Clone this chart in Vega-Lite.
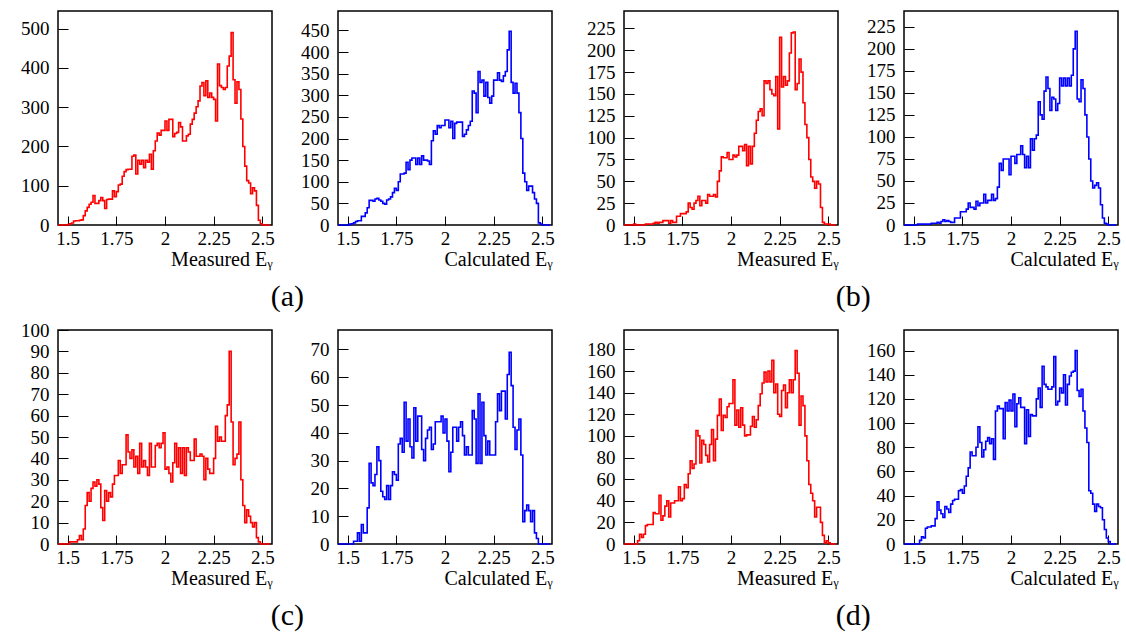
{
"$schema": "https://vega.github.io/schema/vega-lite/v6.json",
"padding": {"left": 19, "top": 10, "right": 5, "bottom": 5},
"background": "white",
"data": {"values": [
{"e":1.45,"ma":0,"ca":0,"mb":0,"cb":0,"mc":0,"cc":0,"md":0,"cd":0},
{"e":1.46,"ma":0,"ca":0,"mb":0,"cb":0,"mc":0,"cc":0,"md":0,"cd":0},
{"e":1.47,"ma":0,"ca":0,"mb":0,"cb":0,"mc":0,"cc":0,"md":0,"cd":0},
{"e":1.48,"ma":0,"ca":0,"mb":0,"cb":0,"mc":0,"cc":0,"md":0,"cd":0},
{"e":1.49,"ma":0,"ca":0,"mb":0,"cb":0,"mc":0,"cc":0,"md":0,"cd":0},
{"e":1.50,"ma":1,"ca":0,"mb":1,"cb":0,"mc":0,"cc":0,"md":0,"cd":0},
{"e":1.51,"ma":3,"ca":2,"mb":0,"cb":0,"mc":1,"cc":0,"md":0,"cd":0},
{"e":1.52,"ma":5,"ca":3,"mb":0,"cb":1,"mc":1,"cc":0,"md":3,"cd":0},
{"e":1.53,"ma":10,"ca":5,"mb":0,"cb":1,"mc":1,"cc":1,"md":9,"cd":3},
{"e":1.54,"ma":11,"ca":8,"mb":0,"cb":1,"mc":1,"cc":1,"md":6,"cd":6},
{"e":1.55,"ma":11,"ca":10,"mb":0,"cb":1,"mc":2,"cc":4,"md":9,"cd":5},
{"e":1.56,"ma":12,"ca":10,"mb":1,"cb":1,"mc":4,"cc":1,"md":17,"cd":13},
{"e":1.57,"ma":13,"ca":20,"mb":1,"cb":1,"mc":2,"cc":7,"md":18,"cd":14},
{"e":1.58,"ma":24,"ca":20,"mb":1,"cb":1,"mc":7,"cc":4,"md":18,"cd":14},
{"e":1.59,"ma":36,"ca":28,"mb":1,"cb":2,"mc":18,"cc":4,"md":18,"cd":15},
{"e":1.60,"ma":45,"ca":40,"mb":2,"cb":2,"mc":24,"cc":13,"md":29,"cd":15},
{"e":1.61,"ma":53,"ca":57,"mb":3,"cb":2,"mc":20,"cc":29,"md":28,"cd":21},
{"e":1.62,"ma":58,"ca":57,"mb":2,"cb":3,"mc":26,"cc":22,"md":28,"cd":35},
{"e":1.63,"ma":75,"ca":55,"mb":3,"cb":2,"mc":29,"cc":21,"md":45,"cd":28},
{"e":1.64,"ma":55,"ca":60,"mb":3,"cb":4,"mc":27,"cc":25,"md":22,"cd":25},
{"e":1.65,"ma":55,"ca":62,"mb":5,"cb":6,"mc":30,"cc":35,"md":26,"cd":22},
{"e":1.66,"ma":62,"ca":58,"mb":5,"cb":4,"mc":28,"cc":30,"md":35,"cd":31},
{"e":1.67,"ma":70,"ca":55,"mb":5,"cb":5,"mc":17,"cc":19,"md":40,"cd":29},
{"e":1.68,"ma":62,"ca":50,"mb":2,"cb":4,"mc":11,"cc":17,"md":25,"cd":26},
{"e":1.69,"ma":42,"ca":48,"mb":5,"cb":3,"mc":25,"cc":16,"md":38,"cd":33},
{"e":1.70,"ma":65,"ca":58,"mb":3,"cb":3,"mc":20,"cc":21,"md":38,"cd":36},
{"e":1.71,"ma":66,"ca":60,"mb":3,"cb":8,"mc":24,"cc":16,"md":40,"cd":37},
{"e":1.72,"ma":66,"ca":65,"mb":10,"cb":8,"mc":22,"cc":21,"md":40,"cd":37},
{"e":1.73,"ma":87,"ca":75,"mb":10,"cb":8,"mc":28,"cc":26,"md":53,"cd":44},
{"e":1.74,"ma":72,"ca":85,"mb":13,"cb":15,"mc":32,"cc":25,"md":40,"cd":45},
{"e":1.75,"ma":85,"ca":80,"mb":13,"cb":15,"mc":32,"cc":23,"md":42,"cd":42},
{"e":1.76,"ma":102,"ca":100,"mb":13,"cb":15,"mc":39,"cc":36,"md":55,"cd":48},
{"e":1.77,"ma":104,"ca":118,"mb":15,"cb":18,"mc":33,"cc":38,"md":52,"cd":56},
{"e":1.78,"ma":124,"ca":118,"mb":25,"cb":25,"mc":37,"cc":33,"md":65,"cd":63},
{"e":1.79,"ma":136,"ca":120,"mb":20,"cb":20,"mc":37,"cc":51,"md":77,"cd":76},
{"e":1.80,"ma":141,"ca":145,"mb":18,"cb":20,"mc":51,"cc":37,"md":70,"cd":73},
{"e":1.81,"ma":142,"ca":128,"mb":25,"cb":18,"mc":43,"cc":45,"md":74,"cd":73},
{"e":1.82,"ma":142,"ca":150,"mb":28,"cb":27,"mc":40,"cc":35,"md":105,"cd":80},
{"e":1.83,"ma":175,"ca":155,"mb":33,"cb":22,"mc":44,"cc":31,"md":100,"cd":97},
{"e":1.84,"ma":178,"ca":155,"mb":22,"cb":25,"mc":36,"cc":49,"md":75,"cd":84},
{"e":1.85,"ma":130,"ca":140,"mb":28,"cb":25,"mc":41,"cc":37,"md":96,"cd":72},
{"e":1.86,"ma":165,"ca":155,"mb":28,"cb":35,"mc":33,"cc":46,"md":92,"cd":78},
{"e":1.87,"ma":155,"ca":140,"mb":25,"cb":25,"mc":47,"cc":46,"md":82,"cd":85},
{"e":1.88,"ma":165,"ca":160,"mb":35,"cb":28,"mc":36,"cc":34,"md":76,"cd":88},
{"e":1.89,"ma":146,"ca":150,"mb":33,"cb":28,"mc":39,"cc":30,"md":92,"cd":83},
{"e":1.90,"ma":165,"ca":150,"mb":33,"cb":35,"mc":36,"cc":38,"md":106,"cd":87},
{"e":1.91,"ma":160,"ca":148,"mb":35,"cb":28,"mc":32,"cc":41,"md":77,"cd":70},
{"e":1.92,"ma":180,"ca":140,"mb":32,"cb":30,"mc":47,"cc":42,"md":97,"cd":110},
{"e":1.93,"ma":142,"ca":195,"mb":50,"cb":43,"mc":36,"cc":34,"md":119,"cd":114},
{"e":1.94,"ma":189,"ca":218,"mb":62,"cb":70,"mc":36,"cc":36,"md":134,"cd":112},
{"e":1.95,"ma":214,"ca":210,"mb":78,"cb":62,"mc":46,"cc":44,"md":105,"cd":112},
{"e":1.96,"ma":234,"ca":230,"mb":77,"cb":75,"mc":47,"cc":44,"md":119,"cd":87},
{"e":1.97,"ma":229,"ca":225,"mb":77,"cb":75,"mc":45,"cc":44,"md":117,"cd":117},
{"e":1.98,"ma":241,"ca":230,"mb":83,"cb":75,"mc":47,"cc":46,"md":127,"cd":110},
{"e":1.99,"ma":241,"ca":230,"mb":75,"cb":57,"mc":52,"cc":40,"md":130,"cd":119},
{"e":2.00,"ma":265,"ca":243,"mb":75,"cb":78,"mc":35,"cc":45,"md":130,"cd":110},
{"e":2.01,"ma":241,"ca":243,"mb":80,"cb":78,"mc":36,"cc":37,"md":152,"cd":124},
{"e":2.02,"ma":269,"ca":225,"mb":78,"cb":70,"mc":33,"cc":26,"md":110,"cd":97},
{"e":2.03,"ma":269,"ca":240,"mb":80,"cb":80,"mc":29,"cc":33,"md":124,"cd":116},
{"e":2.04,"ma":225,"ca":200,"mb":90,"cb":80,"mc":38,"cc":42,"md":108,"cd":121},
{"e":2.05,"ma":233,"ca":235,"mb":90,"cb":90,"mc":47,"cc":42,"md":126,"cd":113},
{"e":2.06,"ma":236,"ca":238,"mb":85,"cb":80,"mc":36,"cc":37,"md":110,"cd":113},
{"e":2.07,"ma":261,"ca":238,"mb":92,"cb":65,"mc":45,"cc":42,"md":100,"cd":83},
{"e":2.08,"ma":250,"ca":238,"mb":68,"cb":78,"mc":33,"cc":44,"md":101,"cd":111},
{"e":2.09,"ma":214,"ca":205,"mb":90,"cb":65,"mc":45,"cc":39,"md":101,"cd":89},
{"e":2.10,"ma":214,"ca":210,"mb":70,"cb":98,"mc":32,"cc":32,"md":109,"cd":107},
{"e":2.11,"ma":227,"ca":220,"mb":90,"cb":85,"mc":45,"cc":35,"md":118,"cd":106},
{"e":2.12,"ma":231,"ca":230,"mb":105,"cb":98,"mc":43,"cc":32,"md":108,"cd":106},
{"e":2.13,"ma":257,"ca":240,"mb":120,"cb":102,"mc":39,"cc":32,"md":115,"cd":120},
{"e":2.14,"ma":269,"ca":310,"mb":130,"cb":140,"mc":39,"cc":48,"md":128,"cd":129},
{"e":2.15,"ma":285,"ca":305,"mb":133,"cb":125,"mc":49,"cc":45,"md":139,"cd":113},
{"e":2.16,"ma":301,"ca":260,"mb":125,"cb":120,"mc":41,"cc":29,"md":149,"cd":147},
{"e":2.17,"ma":316,"ca":355,"mb":165,"cb":152,"mc":41,"cc":54,"md":159,"cd":132},
{"e":2.18,"ma":354,"ca":330,"mb":162,"cb":168,"mc":42,"cc":29,"md":150,"cd":130},
{"e":2.19,"ma":363,"ca":335,"mb":165,"cb":155,"mc":41,"cc":51,"md":160,"cd":128},
{"e":2.20,"ma":329,"ca":298,"mb":155,"cb":130,"mc":30,"cc":39,"md":150,"cd":128},
{"e":2.21,"ma":367,"ca":330,"mb":150,"cb":145,"mc":40,"cc":32,"md":170,"cd":130},
{"e":2.22,"ma":325,"ca":295,"mb":148,"cb":143,"mc":35,"cc":37,"md":140,"cd":155},
{"e":2.23,"ma":336,"ca":282,"mb":170,"cb":130,"mc":33,"cc":32,"md":148,"cd":115},
{"e":2.24,"ma":325,"ca":298,"mb":110,"cb":138,"mc":33,"cc":32,"md":120,"cd":118},
{"e":2.25,"ma":320,"ca":335,"mb":215,"cb":167,"mc":40,"cc":32,"md":118,"cd":129},
{"e":2.26,"ma":265,"ca":335,"mb":158,"cb":158,"mc":55,"cc":44,"md":142,"cd":125},
{"e":2.27,"ma":410,"ca":352,"mb":170,"cb":167,"mc":48,"cc":54,"md":147,"cd":140},
{"e":2.28,"ma":355,"ca":335,"mb":160,"cb":158,"mc":50,"cc":48,"md":126,"cd":115},
{"e":2.29,"ma":350,"ca":332,"mb":165,"cb":167,"mc":48,"cc":55,"md":140,"cd":132},
{"e":2.30,"ma":345,"ca":345,"mb":197,"cb":158,"mc":48,"cc":55,"md":152,"cd":139},
{"e":2.31,"ma":350,"ca":355,"mb":220,"cb":170,"mc":60,"cc":45,"md":140,"cd":142},
{"e":2.32,"ma":405,"ca":405,"mb":221,"cb":200,"mc":65,"cc":61,"md":152,"cd":143},
{"e":2.33,"ma":430,"ca":448,"mb":155,"cb":220,"mc":90,"cc":69,"md":179,"cd":160},
{"e":2.34,"ma":490,"ca":330,"mb":162,"cb":143,"mc":57,"cc":57,"md":158,"cd":127},
{"e":2.35,"ma":370,"ca":305,"mb":190,"cb":140,"mc":37,"cc":42,"md":110,"cd":122},
{"e":2.36,"ma":310,"ca":328,"mb":175,"cb":165,"mc":40,"cc":34,"md":137,"cd":128},
{"e":2.37,"ma":365,"ca":305,"mb":140,"cb":155,"mc":42,"cc":41,"md":128,"cd":110},
{"e":2.38,"ma":345,"ca":260,"mb":115,"cb":125,"mc":57,"cc":45,"md":100,"cd":96},
{"e":2.39,"ma":270,"ca":200,"mb":100,"cb":100,"mc":30,"cc":32,"md":77,"cd":84},
{"e":2.40,"ma":200,"ca":120,"mb":75,"cb":75,"mc":18,"cc":8,"md":55,"cd":44},
{"e":2.41,"ma":150,"ca":100,"mb":55,"cb":50,"mc":10,"cc":12,"md":47,"cd":42},
{"e":2.42,"ma":113,"ca":80,"mb":50,"cb":42,"mc":16,"cc":14,"md":40,"cd":33},
{"e":2.43,"ma":107,"ca":90,"mb":42,"cb":45,"mc":13,"cc":12,"md":25,"cd":27},
{"e":2.44,"ma":80,"ca":90,"mb":50,"cb":48,"mc":10,"cc":8,"md":34,"cd":33},
{"e":2.45,"ma":95,"ca":75,"mb":47,"cb":42,"mc":8,"cc":12,"md":34,"cd":31},
{"e":2.46,"ma":87,"ca":60,"mb":20,"cb":23,"mc":10,"cc":4,"md":20,"cd":30},
{"e":2.47,"ma":50,"ca":50,"mb":3,"cb":8,"mc":3,"cc":2,"md":8,"cd":20},
{"e":2.48,"ma":12,"ca":5,"mb":1,"cb":2,"mc":1,"cc":0,"md":1,"cd":12},
{"e":2.49,"ma":3,"ca":2,"mb":1,"cb":1,"mc":0,"cc":0,"md":3,"cd":5},
{"e":2.50,"ma":0,"ca":0,"mb":1,"cb":0,"mc":0,"cc":0,"md":1,"cd":2},
{"e":2.51,"ma":0,"ca":0,"mb":0,"cb":0,"mc":0,"cc":0,"md":0,"cd":0},
{"e":2.52,"ma":0,"ca":0,"mb":0,"cb":0,"mc":0,"cc":0,"md":0,"cd":0},
{"e":2.53,"ma":0,"ca":0,"mb":0,"cb":0,"mc":0,"cc":0,"md":0,"cd":0},
{"e":2.54,"ma":0,"ca":0,"mb":0,"cb":0,"mc":0,"cc":0,"md":0,"cd":0}
]},
"config": {
  "view": {"stroke": "#000", "strokeWidth": 1.5},
  "font": "'Liberation Serif', 'Times New Roman', 'DejaVu Serif', serif",
  "axis": {"domain": false, "grid": false, "tickColor": "#000", "tickWidth": 1, "labelFont": "'Liberation Serif', 'Times New Roman', 'DejaVu Serif', serif", "labelFontSize": 19, "labelColor": "#000", "titleFont": "'Liberation Serif', 'Times New Roman', 'DejaVu Serif', serif", "titleFontSize": 20, "titleFontWeight": "normal", "titleColor": "#000", "labelFlush": false, "labelOverlap": false, "labelExpr": "datum.value + ''"},
  "axisX": {"tickSize": -9, "labelPadding": 13, "titleAnchor": "end", "titlePadding": 1},
  "axisY": {"tickSize": -10, "labelPadding": 19},
  "title": {"font": "'Liberation Serif', 'Times New Roman', 'DejaVu Serif', serif", "fontSize": 30, "fontWeight": "normal", "color": "#000", "orient": "bottom", "anchor": "middle", "offset": 12}
},
"spacing": 8,
"vconcat": [
 {"spacing": 30, "hconcat": [
  {"title": "(a)", "bounds": "flush", "spacing": 66, "hconcat": [
   {"width": 214, "height": 214, "mark": {"type": "line", "interpolate": "step-after", "color": "#ff0000", "strokeWidth": 1.6},
    "encoding": {"x": {"field": "e", "type": "quantitative", "scale": {"domain": [1.45, 2.55], "nice": false, "zero": false}, "axis": {"values": [1.5, 1.75, 2, 2.25, 2.5], "title": "Measured Eᵧ"}},
                 "y": {"field": "ma", "type": "quantitative", "scale": {"domain": [0, 545], "nice": false}, "axis": {"values": [0, 100, 200, 300, 400, 500], "title": null}}}},
   {"width": 214, "height": 214, "mark": {"type": "line", "interpolate": "step-after", "color": "#0000ff", "strokeWidth": 1.6},
    "encoding": {"x": {"field": "e", "type": "quantitative", "scale": {"domain": [1.45, 2.55], "nice": false, "zero": false}, "axis": {"values": [1.5, 1.75, 2, 2.25, 2.5], "title": "Calculated Eᵧ"}},
                 "y": {"field": "ca", "type": "quantitative", "scale": {"domain": [0, 495], "nice": false}, "axis": {"values": [0, 50, 100, 150, 200, 250, 300, 350, 400, 450], "title": null}}}}
  ]},
  {"title": "(b)", "bounds": "flush", "spacing": 66, "hconcat": [
   {"width": 214, "height": 214, "mark": {"type": "line", "interpolate": "step-after", "color": "#ff0000", "strokeWidth": 1.6},
    "encoding": {"x": {"field": "e", "type": "quantitative", "scale": {"domain": [1.45, 2.55], "nice": false, "zero": false}, "axis": {"values": [1.5, 1.75, 2, 2.25, 2.5], "title": "Measured Eᵧ"}},
                 "y": {"field": "mb", "type": "quantitative", "scale": {"domain": [0, 245], "nice": false}, "axis": {"values": [0, 25, 50, 75, 100, 125, 150, 175, 200, 225], "title": null}}}},
   {"width": 214, "height": 214, "mark": {"type": "line", "interpolate": "step-after", "color": "#0000ff", "strokeWidth": 1.6},
    "encoding": {"x": {"field": "e", "type": "quantitative", "scale": {"domain": [1.45, 2.55], "nice": false, "zero": false}, "axis": {"values": [1.5, 1.75, 2, 2.25, 2.5], "title": "Calculated Eᵧ"}},
                 "y": {"field": "cb", "type": "quantitative", "scale": {"domain": [0, 243], "nice": false}, "axis": {"values": [0, 25, 50, 75, 100, 125, 150, 175, 200, 225], "title": null}}}}
  ]}
 ]},
 {"spacing": 30, "hconcat": [
  {"title": "(c)", "bounds": "flush", "spacing": 66, "hconcat": [
   {"width": 214, "height": 214, "mark": {"type": "line", "interpolate": "step-after", "color": "#ff0000", "strokeWidth": 1.6},
    "encoding": {"x": {"field": "e", "type": "quantitative", "scale": {"domain": [1.45, 2.55], "nice": false, "zero": false}, "axis": {"values": [1.5, 1.75, 2, 2.25, 2.5], "title": "Measured Eᵧ"}},
                 "y": {"field": "mc", "type": "quantitative", "scale": {"domain": [0, 100], "nice": false}, "axis": {"values": [0, 10, 20, 30, 40, 50, 60, 70, 80, 90, 100], "title": null}}}},
   {"width": 214, "height": 214, "mark": {"type": "line", "interpolate": "step-after", "color": "#0000ff", "strokeWidth": 1.6},
    "encoding": {"x": {"field": "e", "type": "quantitative", "scale": {"domain": [1.45, 2.55], "nice": false, "zero": false}, "axis": {"values": [1.5, 1.75, 2, 2.25, 2.5], "title": "Calculated Eᵧ"}},
                 "y": {"field": "cc", "type": "quantitative", "scale": {"domain": [0, 77], "nice": false}, "axis": {"values": [0, 10, 20, 30, 40, 50, 60, 70], "title": null}}}}
  ]},
  {"title": "(d)", "bounds": "flush", "spacing": 66, "hconcat": [
   {"width": 214, "height": 214, "mark": {"type": "line", "interpolate": "step-after", "color": "#ff0000", "strokeWidth": 1.6},
    "encoding": {"x": {"field": "e", "type": "quantitative", "scale": {"domain": [1.45, 2.55], "nice": false, "zero": false}, "axis": {"values": [1.5, 1.75, 2, 2.25, 2.5], "title": "Measured Eᵧ"}},
                 "y": {"field": "md", "type": "quantitative", "scale": {"domain": [0, 198], "nice": false}, "axis": {"values": [0, 20, 40, 60, 80, 100, 120, 140, 160, 180], "title": null}}}},
   {"width": 214, "height": 214, "mark": {"type": "line", "interpolate": "step-after", "color": "#0000ff", "strokeWidth": 1.6},
    "encoding": {"x": {"field": "e", "type": "quantitative", "scale": {"domain": [1.45, 2.55], "nice": false, "zero": false}, "axis": {"values": [1.5, 1.75, 2, 2.25, 2.5], "title": "Calculated Eᵧ"}},
                 "y": {"field": "cd", "type": "quantitative", "scale": {"domain": [0, 177], "nice": false}, "axis": {"values": [0, 20, 40, 60, 80, 100, 120, 140, 160], "title": null}}}}
  ]}
 ]}
]
}
